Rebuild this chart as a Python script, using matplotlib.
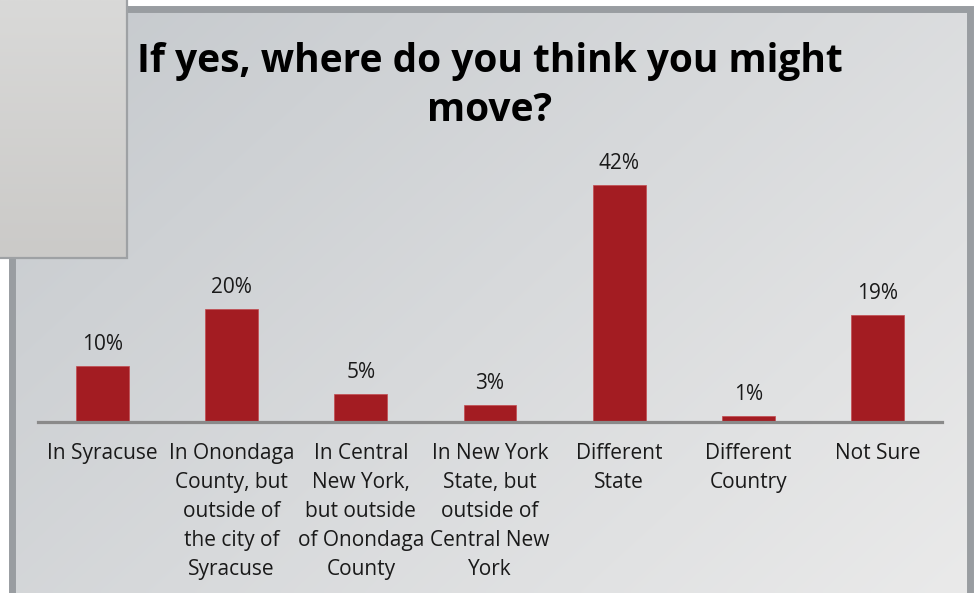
import numpy as np
from matplotlib import pyplot as plt
from matplotlib.patches import Rectangle

categories = [
    "In Syracuse",
    "In Onondaga\nCounty, but\noutside of\nthe city of\nSyracuse",
    "In Central\nNew York,\nbut outside\nof Onondaga\nCounty",
    "In New York\nState, but\noutside of\nCentral New\nYork",
    "Different\nState",
    "Different\nCountry",
    "Not Sure",
]
shares = [0.10, 0.20, 0.05, 0.03, 0.42, 0.01, 0.19]
title = "If yes, where do you think you might\nmove?"

W, H = 977, 593
plt.rcParams['font.family'] = ['Open Sans', 'DejaVu Sans']

fig = plt.figure(figsize=(W / 100, H / 100), dpi=100, facecolor='white')

# background decoration in pixel coordinates
bg = fig.add_axes([0, 0, 1, 1], zorder=0)
bg.set_xlim(0, W)
bg.set_ylim(H, 0)
bg.axis('off')


def gradient(c0, c1, nx=200, ny=120):
    c0 = np.array(c0) / 255
    c1 = np.array(c1) / 255
    xx, yy = np.meshgrid(np.linspace(0, 1, nx), np.linspace(0, 1, ny))
    t = (0.6 * xx + 0.4 * yy)[..., None]
    return c0 + (c1 - c0) * t


bg.imshow(gradient((197, 201, 205), (234, 234, 234)), extent=(11.5, 969.5, H, 9),
          aspect='auto', interpolation='bilinear', zorder=0)
bg.add_patch(Rectangle((11.5, 9), 958, H + 20, fill=False, edgecolor='#999da1',
                       linewidth=5.0, zorder=1))

# grey square in the top-left corner
sq = np.linspace(0, 1, 100)[:, None, None] * (np.array([203, 202, 200]) - np.array([217, 217, 216])) / 255 \
    + np.array([217, 217, 216]) / 255
sq = np.repeat(sq, 10, axis=1)
bg.imshow(sq, extent=(0, 127, 258, 0), aspect='auto', interpolation='bilinear', zorder=2)
bg.plot([126.5, 126.5, 0], [0, 257.5, 257.5], color='#9ea1a4', lw=1.6, zorder=3,
        solid_joinstyle='miter')
bg.set_xlim(0, W)
bg.set_ylim(H, 0)

fig.text(490 / W, 1 - 42 / H, title, ha='center', va='top', fontsize=28,
         fontweight='bold', linespacing=1.33, color='black')

# bar chart
left, right, base, top = 38, 942, 422, 140
ax = fig.add_axes([left / W, 1 - base / H, (right - left) / W, (base - top) / H], zorder=2)
ax.set_facecolor('none')
x = np.arange(len(categories))
bars = ax.bar(x, shares, width=0.41, color='#a31c22', edgecolor='#c24a4f', linewidth=0.5)
ax.set_xlim(-0.5, len(categories) - 0.5)
ax.set_ylim(0, 0.5)
for b, v in zip(bars, shares):
    ax.annotate(f"{v:.0%}", (b.get_x() + b.get_width() / 2, v), xytext=(0, 11.5),
                textcoords='offset points', ha='center', va='baseline', fontsize=15,
                color='#1a1a1a')

ax.set_xticks(x)
ax.set_xticklabels(categories, fontsize=15, linespacing=1.5, color='#1a1a1a')
ax.tick_params(axis='x', length=0, pad=15)
ax.set_yticks([])
for s in ['left', 'right', 'top']:
    ax.spines[s].set_visible(False)
ax.spines['bottom'].set_color('#8a8a8a')
ax.spines['bottom'].set_linewidth(2.3)

fig.savefig('out.png', dpi=100, facecolor='white')
